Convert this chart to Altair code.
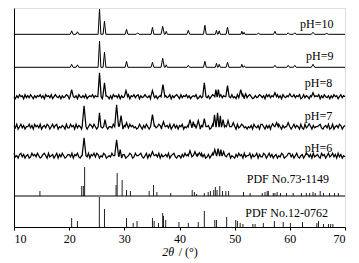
import altair as alt
import pandas as pd

# ---------------- data ----------------
x_ticks = [10, 15, 20, 25, 30, 35, 40, 45, 50, 55, 60, 65, 70]

series_names = ["pH=10", "pH=9", "pH=8", "pH=7", "pH=6", "PDF No.73-1149", "PDF No.12-0762"]
series_offsets = [192.7, 159.7, 130.3, 100.3, 71.3, 31.0, 0.0]
label_x = [67.9, 67.9, 67.7, 67.7, 67.7, 67.1, 66.9]
label_y = [199.0, 167.5, 140.5, 107.5, 75.5, 44.0, 10.5]

# peaks: (2theta, height, half-width)
peaks_ph10 = [(20.45, 3.5, .25), (21.5, 2.5, .25), (25.5, 25, .25), (26.4, 13, .25), (30.4, 5, .25),
              (32.4, 1.5, .25), (35.1, 7, .25), (36.95, 8, .3), (37.6, 3, .2), (41.6, 4, .25),
              (44.6, 9, .25), (46.7, 4, .2), (47.2, 3.5, .2), (48.7, 7, .25), (51.3, 3, .18),
              (51.7, 2, .18), (54.3, 1, .3), (57.3, 3, .25), (59.7, 1.5, .25), (60.9, 1.5, .25),
              (64.2, 2, .3), (66.7, 1, .3)]
peaks_ph9 = [(20.45, 3, .25), (21.5, 2.5, .25), (25.5, 26, .25), (26.4, 15, .25), (30.4, 6, .25),
             (35.1, 5, .25), (36.95, 9, .3), (37.6, 2.5, .2), (41.6, 2, .25), (44.6, 6, .25),
             (46.7, 4, .2), (47.2, 3, .2), (48.7, 5, .25), (51.3, 3, .18), (51.75, 1.5, .18),
             (57.3, 2, .25), (59.7, 2, .25), (60.9, 2, .25), (64.2, 3, .3)]
peaks_ph8 = [(20.45, 7, .3), (25.5, 24, .3), (26.4, 14, .3), (30.3, 6, .3), (35.1, 6, .3),
             (37.0, 12, .35), (44.5, 14, .3), (46.6, 7, .2), (47.05, 7, .2), (48.7, 11, .3),
             (51.1, 7, .3), (52.0, 3, .2), (57.3, 4, .3), (60.0, 3, .3), (64.2, 4, .3)]
peaks_ph7 = [(22.7, 21, .35), (25.5, 14, .25), (26.5, 7, .25), (28.6, 22, .35), (29.4, 11, .3),
             (30.4, 4, .25), (35.1, 12, .35), (37.1, 5, .3), (41.9, 7, .3), (42.5, 5, .2),
             (43.4, 6, .3), (44.5, 8, .3), (46.35, 12, .25), (46.9, 14, .25), (47.4, 11, .2),
             (47.9, 7, .25), (48.8, 6, .3), (49.75, 4, .3), (56.9, 3, .3), (57.6, 4, .3),
             (59.7, 4, .3), (63.5, 3, .3)]
peaks_ph6 = [(22.7, 18, .35), (28.6, 16, .35), (29.25, 6, .2), (35.1, 4, .3), (41.9, 5, .3),
             (42.8, 4, .3), (43.6, 3, .3), (46.4, 6, .3), (47.0, 7, .25), (47.5, 6, .2),
             (48.0, 4, .25)]

# background noise read as digits (2 = baseline), one every 0.25 degree from 10 to 70
noise_ph8 = ("2031423041" "3142031324" "1304231402" "4213031243" "0324130421" "3140232413"
             "2413041320" "3042314031" "1324032413" "4031242130" "2413023140" "3124031342"
             "0413241302" "3240131423" "1302431204" "4132023141" "2041324031" "3420131243"
             "1304241320" "2413042131" "0324132401" "4132031423" "2403142130" "3142302413" "2")
noise_ph7 = ("3140241302" "2413042314" "0231430241" "3402132041" "1423041320" "4130243142"
             "0324131402" "2143024130" "3041423120" "1420314203" "4031243021" "2314024130"
             "3240213041" "0413203142" "2301442031" "1423030241" "3041243120" "2130421304"
             "4203130142" "1342031240" "3024132041" "0413240312" "2341023140" "1402314302" "3")
noise_ph6 = ("4120341302" "3014231420" "1342041230" "2403142013" "3140324102" "0231403241"
             "4302143012" "1420341203" "3012430142" "2341024031" "0423140312" "3140234102"
             "2031423401" "4213024130" "1302413042" "3420134021" "0314230412" "2403124031"
             "1430241302" "3021430124" "4130241023" "0243130412" "3104230241" "2413041302" "1")

# stick patterns: (2theta, relative height)
pdf73_pos = [14.7, 22.27, 22.57, 22.8, 28.5, 28.7, 29.6, 30.4, 31.1, 34.5, 35.3, 35.9, 38.4,
             42.3, 42.7, 43.1, 44.5, 45.2, 45.6, 46.2, 46.5, 46.8, 47.3, 47.8, 48.4, 48.9,
             51.6, 52.8, 55.0, 55.5, 55.9, 56.1, 57.0, 57.3, 57.7, 58.3, 59.4, 60.6, 62.1,
             63.0, 63.6, 64.2, 64.6, 65.5, 66.1, 67.2, 68.1, 68.8]
pdf73_h = [5, 10, 10, 29, 11, 23, 16, 6, 5, 5, 11, 4, 3,
           6, 4, 2, 3, 4, 5, 6, 9, 6, 10, 5, 5, 5,
           4, 3, 3, 4, 5, 5, 3, 3, 4, 3, 3, 3, 3,
           3, 3, 4, 3, 5, 3, 3, 3, 3]
pdf12_pos = [20.45, 21.5, 25.47, 26.4, 30.4, 31.6, 32.3, 35.1, 35.4, 36.2, 36.95, 37.1, 37.5,
             39.9, 41.6, 43.4, 44.5, 46.4, 46.7, 48.55, 50.2, 50.5, 51.0, 51.5, 53.3, 53.7,
             55.2, 57.2, 58.8, 60.1, 62.3, 64.9, 65.2, 66.1, 67.0, 67.4, 67.8]
pdf12_h = [9, 6, 30, 18, 9, 4, 6, 9, 6, 4, 14, 11, 7,
           5, 4, 5, 16, 7, 7, 10, 7, 6, 4, 3, 3, 3,
           4, 6, 5, 4, 5, 4, 6, 3, 3, 3, 3]

# ---------------- build tables ----------------
def trace(name, offset, peaks, noise=None, amp=1.0, noisy=False):
    pts = []
    if noise is None:
        pts += [(10.0, 0.0), (70.0, 0.0)]
    else:
        for i, d in enumerate(noise):
            x = 10 + 0.25 * i
            if any(p - w <= x <= p + w for p, h, w in peaks):
                continue
            pts.append((x, (int(d) - 2) * amp))
    for p, h, w in peaks:
        pts += [(p - w, 0.0), (p, float(h)), (p + w, 0.0)]
    pts.sort()
    return pd.DataFrame({"x": [a for a, b in pts], "y": [offset + b for a, b in pts],
                         "series": name, "order": list(range(len(pts))),
                         "kind": "noisy" if noisy else "clean"})

lines = pd.concat([
    trace(series_names[0], series_offsets[0], peaks_ph10),
    trace(series_names[1], series_offsets[1], peaks_ph9),
    trace(series_names[2], series_offsets[2], peaks_ph8, noise_ph8, 1.0, True),
    trace(series_names[3], series_offsets[3], peaks_ph7, noise_ph7, 1.2, True),
    trace(series_names[4], series_offsets[4], peaks_ph6, noise_ph6, 1.2, True),
], ignore_index=True)

sticks = pd.concat([
    pd.DataFrame({"x": pdf73_pos, "y": series_offsets[5], "y2": [series_offsets[5] + h for h in pdf73_h]}),
    pd.DataFrame({"x": pdf12_pos, "y": series_offsets[6], "y2": [series_offsets[6] + h for h in pdf12_h]}),
], ignore_index=True)

labels = pd.DataFrame({"x": label_x, "y": label_y, "text": series_names})
base_lines = pd.DataFrame({"y": [series_offsets[5]]})
title_parts = pd.DataFrame({"x": [39.05, 39.85], "text": ["2θ", "/ (°)"]})

W, H = 331, 219
xs = alt.Scale(domain=[10, 70], nice=False, zero=False)
ys = alt.Scale(domain=[0, 219], nice=False, zero=False)
FONT = "Liberation Serif"

x_axis = alt.Axis(values=x_ticks, labelExpr="datum.value % 10 == 0 ? datum.label : ''",
                  title=None, grid=False, domainColor="black", tickColor="black", tickSize=3,
                  labelFont=FONT, labelFontSize=12, labelColor="black", labelPadding=3,
                  domainWidth=1)
y_axis = alt.Axis(labels=False, ticks=False, title=None, grid=False, domainColor="black")

line_layer = alt.Chart(lines).mark_line(color="black").encode(
    x=alt.X("x:Q", scale=xs, axis=x_axis),
    y=alt.Y("y:Q", scale=ys, axis=y_axis),
    detail="series:N",
    order="order:Q",
    strokeWidth=alt.StrokeWidth("kind:N", scale=alt.Scale(domain=["clean", "noisy"], range=[1.0, 1.25]),
                                legend=None),
)

stick_layer = alt.Chart(sticks).mark_rule(color="#222222", strokeWidth=1).encode(
    x=alt.X("x:Q", scale=xs), y=alt.Y("y:Q", scale=ys), y2="y2:Q")

base_layer = alt.Chart(base_lines).mark_rule(color="black", strokeWidth=1).encode(
    y=alt.Y("y:Q", scale=ys))

label_layer = alt.Chart(labels).mark_text(align="right", baseline="alphabetic", font=FONT,
                                          fontSize=12, color="black").encode(
    x=alt.X("x:Q", scale=xs), y=alt.Y("y:Q", scale=ys), text="text:N")

t1 = alt.Chart(title_parts.iloc[[0]]).mark_text(align="right", baseline="alphabetic", font=FONT,
                                                fontSize=12, fontStyle="italic", color="black").encode(
    x=alt.X("x:Q", scale=xs), y=alt.value(248), text="text:N")
t2 = alt.Chart(title_parts.iloc[[1]]).mark_text(align="left", baseline="alphabetic", font=FONT,
                                                fontSize=12, color="black").encode(
    x=alt.X("x:Q", scale=xs), y=alt.value(248), text="text:N")

chart = alt.layer(stick_layer, base_layer, line_layer, label_layer, t1, t2).properties(
    width=W, height=H,
    autosize=alt.AutoSizeParams(type="none"),
    padding={"left": 14, "top": 8, "right": 14, "bottom": 36},
).configure_view(stroke="#8a8a8a", strokeWidth=1).configure(background="white")

chart.save("out.html", embed_options={"renderer": "svg", "actions": False})
